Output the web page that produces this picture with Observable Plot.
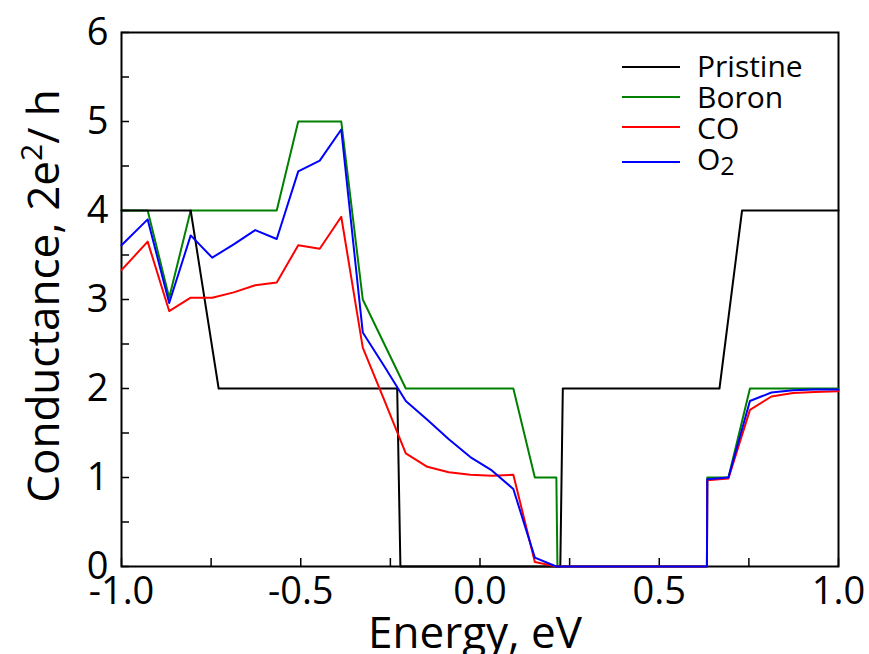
<!DOCTYPE html>
<html>
<head>
<meta charset="utf-8">
<script src="https://cdn.jsdelivr.net/npm/d3@7"></script>
<script src="https://cdn.jsdelivr.net/npm/@observablehq/plot@0.6"></script>
<style>
  body { margin: 0; background: #fff; }
  #chart { width: 869px; height: 654px; }
</style>
</head>
<body>
<div id="chart"></div>
<script>
// ---- Data ----
const seriesNames = ["Pristine", "Boron", "CO", "O2"];
const seriesColors = ["#000000", "#008000", "#ff0000", "#0000ff"];

const pristineEnergy = [-1.0, -0.807, -0.729, -0.231, -0.222, 0.224, 0.231, 0.668, 0.731, 1.0];
const pristineG      = [4, 4, 2, 2, 0, 0, 2, 2, 4, 4];

const boronEnergy = [-1.0, -0.927, -0.867, -0.807, -0.567, -0.507, -0.387, -0.327, -0.207, 0.093, 0.153, 0.213, 0.216, 0.633, 0.634, 0.693, 0.753, 1.0];
const boronG      = [4, 4, 3.02, 4, 4, 5, 5, 3, 2, 2, 1, 1, 0, 0, 1.0, 1.0, 2, 2];

const adsEnergy = [-1.0, -0.927, -0.867, -0.807, -0.747, -0.687, -0.627, -0.567, -0.507, -0.447, -0.387, -0.327, -0.267, -0.207, -0.147, -0.087, -0.027, 0.033, 0.093, 0.153, 0.213, 0.633, 0.634, 0.693, 0.753, 0.813, 0.873, 0.933, 1.0];
const coG = [3.33, 3.65, 2.87, 3.02, 3.02, 3.08, 3.16, 3.19, 3.61, 3.57, 3.93, 2.46, 1.87, 1.27, 1.12, 1.06, 1.03, 1.02, 1.03, 0.05, 0.0, 0.0, 0.97, 0.99, 1.76, 1.91, 1.95, 1.96, 1.97];
const o2G = [3.61, 3.90, 2.96, 3.72, 3.47, 3.62, 3.78, 3.68, 4.44, 4.56, 4.91, 2.63, 2.25, 1.86, 1.65, 1.43, 1.23, 1.08, 0.87, 0.10, 0.0, 0.0, 0.98, 1.0, 1.86, 1.955, 1.98, 1.99, 1.99];

const xTickValues  = [-1.0, -0.75, -0.5, -0.25, 0.0, 0.25, 0.5, 0.75, 1.0];
const xLabelValues = [-1.0, -0.5, 0.0, 0.5, 1.0];
const yTickValues  = [0, 0.5, 1, 1.5, 2, 2.5, 3, 3.5, 4, 4.5, 5, 5.5, 6];
const yLabelValues = [0, 1, 2, 3, 4, 5, 6];

// ---- Table built from the arrays (drawing order: Boron under Pristine, then CO, O2) ----
const rows = [];
const add = (name, E, G) => E.forEach((e, i) => rows.push({series: name, E: e, G: G[i]}));
add("Boron", boronEnergy, boronG);
add("Pristine", pristineEnergy, pristineG);
add("CO", adsEnergy, coG);
add("O2", adsEnergy, o2G);

const FONT = "'Open Sans', 'DejaVu Sans', sans-serif";

const plot = Plot.plot({
  width: 869,
  height: 654,
  marginLeft: 121,
  marginRight: 31,
  marginTop: 32,
  marginBottom: 88,
  style: {fontFamily: FONT, background: "white", color: "black", overflow: "visible"},
  x: {domain: [-1, 1]},
  y: {domain: [0, 6]},
  color: {domain: seriesNames, range: seriesColors},
  marks: [
    Plot.frame({stroke: "black", strokeWidth: 2}),
    Plot.axisX(xTickValues, {tickSize: -8, strokeWidth: 1.5, tickFormat: () => "", label: null}),
    Plot.axisY(yTickValues, {tickSize: -8, strokeWidth: 1.5, tickFormat: () => "", label: null}),
    Plot.axisX(xLabelValues, {tickSize: 0, tickPadding: 11, fontSize: 38, label: null, tickFormat: d => d.toFixed(1)}),
    Plot.axisY(yLabelValues, {tickSize: 0, tickPadding: 13, fontSize: 38, label: null, tickFormat: d => String(d)}),
    Plot.line(rows, {x: "E", y: "G", z: "series", stroke: "series", strokeWidth: 2})
  ]
});

document.getElementById("chart").appendChild(plot);

// ---- Axis titles and legend ----
const svg = d3.select(plot);

svg.append("text")
  .attr("x", 475).attr("y", 648)
  .attr("text-anchor", "middle")
  .attr("font-family", FONT).attr("font-size", 44)
  .attr("fill", "black")
  .text("Energy, eV");

const yt = svg.append("text")
  .attr("transform", "translate(59,296) rotate(-90)")
  .attr("text-anchor", "middle")
  .attr("font-family", FONT).attr("font-size", 44)
  .attr("fill", "black");
yt.append("tspan").text("Conductance, 2e");
yt.append("tspan").attr("font-size", 30).attr("dy", -17).text("2");
yt.append("tspan").attr("dy", 17).text("/ h");

const legendLineY = [67, 97, 127, 162];
const legendTextY = [77, 108, 139, 170];
const lg = svg.append("g")
  .attr("font-family", FONT).attr("font-size", 30)
  .attr("fill", "black").attr("text-anchor", "start");
seriesNames.forEach((name, i) => {
  lg.append("line")
    .attr("x1", 622).attr("x2", 680)
    .attr("y1", legendLineY[i]).attr("y2", legendLineY[i])
    .attr("stroke", seriesColors[i]).attr("stroke-width", 2);
  const t = lg.append("text").attr("x", 697).attr("y", legendTextY[i]).attr("text-anchor", "start");
  if (name === "O2") {
    t.append("tspan").text("O");
    t.append("tspan").attr("font-size", 25).attr("dy", 5).text("2");
  } else {
    t.text(name);
  }
});
</script>
</body>
</html>
